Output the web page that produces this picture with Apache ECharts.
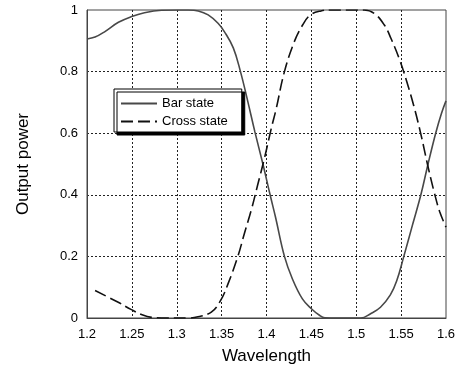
<!DOCTYPE html>
<html>
<head>
<meta charset="utf-8">
<script src="https://cdn.jsdelivr.net/npm/echarts@6/dist/echarts.min.js"></script>
<style>
html,body{margin:0;padding:0;background:#fff;}
#chart{width:459px;height:370px;}
</style>
</head>
<body>
<div id="chart"></div>
<script>
// Wavelength ticks
var xTicks = [1.2, 1.25, 1.3, 1.35, 1.4, 1.45, 1.5, 1.55, 1.6];
var yTicks = [0, 0.2, 0.4, 0.6, 0.8, 1];

// Bar state
var barWl = [1.200, 1.209, 1.220, 1.235, 1.249, 1.264, 1.283, 1.300, 1.313, 1.324, 1.335, 1.346, 1.353, 1.363, 1.371, 1.379, 1.387, 1.396, 1.404, 1.410, 1.420, 1.429, 1.440, 1.450, 1.459, 1.465, 1.480, 1.505, 1.516, 1.527, 1.538, 1.545, 1.553, 1.562, 1.572, 1.580, 1.5885, 1.595, 1.600];
var barPow = [0.906, 0.912, 0.930, 0.960, 0.978, 0.991, 0.999, 1.000, 1.000, 0.997, 0.984, 0.957, 0.930, 0.877, 0.800, 0.705, 0.605, 0.500, 0.400, 0.328, 0.200, 0.126, 0.062, 0.030, 0.009, 0.001, 0.000, 0.000, 0.014, 0.035, 0.075, 0.120, 0.200, 0.295, 0.400, 0.500, 0.600, 0.665, 0.705];

// Cross state
var crossWl = [1.209, 1.2348, 1.2489, 1.2607, 1.2719, 1.290, 1.3126, 1.3237, 1.3385, 1.3489, 1.357, 1.3681, 1.3756, 1.383, 1.390, 1.3978, 1.4052, 1.4107, 1.420, 1.4311, 1.4404, 1.4489, 1.4607, 1.4719, 1.490, 1.5089, 1.520, 1.5311, 1.5385, 1.5489, 1.556, 1.564, 1.5719, 1.5793, 1.5867, 1.593, 1.600];
var crossPow = [0.089, 0.051, 0.028, 0.011, 0.002, 0.000, 0.000, 0.004, 0.019, 0.057, 0.110, 0.200, 0.277, 0.350, 0.430, 0.520, 0.614, 0.678, 0.800, 0.898, 0.952, 0.984, 0.997, 1.000, 1.000, 1.000, 0.989, 0.952, 0.909, 0.834, 0.770, 0.690, 0.598, 0.500, 0.410, 0.345, 0.295];

var names = ['Bar state', 'Cross state'];

function pairs(xs, ys) { return xs.map(function (x, i) { return [x, ys[i]]; }); }

var FONT = 'Liberation Sans, Arial, Helvetica, sans-serif';
var chart = echarts.init(document.getElementById('chart'), null, {renderer: 'canvas'});
chart.setOption({
  animation: false,
  backgroundColor: '#fff',
  grid: {left: 87, top: 10, right: 13, bottom: 49, show: true, borderColor: '#444', borderWidth: 1, backgroundColor: 'transparent'},
  legend: {
    data: names,
    orient: 'vertical',
    left: 114, top: 89,
    padding: [8, 14, 4, 6],
    itemWidth: 36, itemHeight: 14, itemGap: 5,
    backgroundColor: '#fff',
    borderColor: '#000', borderWidth: 1,
    shadowColor: '#000', shadowBlur: 0, shadowOffsetX: 3, shadowOffsetY: 3,
    itemStyle: {opacity: 0, borderWidth: 0},
    textStyle: {fontFamily: FONT, fontSize: 13, color: '#000'},
    selectedMode: false
  },
  xAxis: {
    type: 'value', min: xTicks[0], max: xTicks[xTicks.length - 1], interval: 0.05,
    name: 'Wavelength', nameLocation: 'middle', nameGap: 30,
    nameTextStyle: {fontFamily: FONT, fontSize: 17, color: '#000'},
    axisLine: {show: true, lineStyle: {color: '#444', width: 1}},
    axisTick: {show: false},
    axisLabel: {fontFamily: FONT, fontSize: 13, color: '#000', margin: 10,
      formatter: function (v) { var r = Math.round(v * 100) / 100; return xTicks.indexOf(r) >= 0 ? String(r) : ''; }},
    splitLine: {show: true, showMinLine: false, showMaxLine: false, lineStyle: {color: '#222', width: 1, type: [2, 2]}}
  },
  yAxis: {
    type: 'value', min: yTicks[0], max: yTicks[yTicks.length - 1], interval: 0.2,
    name: 'Output power', nameLocation: 'middle', nameGap: 55,
    nameTextStyle: {fontFamily: FONT, fontSize: 17, color: '#000'},
    axisLine: {show: true, lineStyle: {color: '#444', width: 1}},
    axisTick: {show: false},
    axisLabel: {fontFamily: FONT, fontSize: 13, color: '#000', margin: 9,
      formatter: function (v) { var r = Math.round(v * 10) / 10; return String(r); }},
    splitLine: {show: true, showMinLine: false, showMaxLine: false, lineStyle: {color: '#222', width: 1, type: [2, 2]}}
  },
  series: [
    {name: names[0], type: 'line', data: pairs(barWl, barPow), symbol: 'none', showSymbol: false, smooth: 0.4,
     lineStyle: {color: '#484848', width: 1.6}, itemStyle: {color: '#484848'}, z: 3},
    {name: names[1], type: 'line', data: pairs(crossWl, crossPow), symbol: 'none', showSymbol: false, smooth: 0.4,
     lineStyle: {color: '#111', width: 1.6, type: [12, 5]}, itemStyle: {color: '#111'}, z: 3}
  ]
});
</script>
</body>
</html>
